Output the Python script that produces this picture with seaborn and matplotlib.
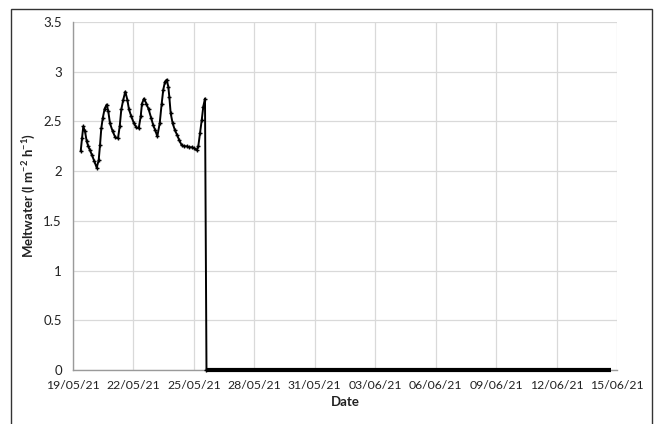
import numpy as np
import pandas as pd
import matplotlib
matplotlib.use("Agg")
import matplotlib.pyplot as plt
import matplotlib.dates as mdates
from matplotlib.patches import Rectangle
import seaborn as sns

# ---- data ----
start_date = "2021-05-19"
# time in days since 19/05/21 00:00
melt_days = [0.382, 0.447, 0.511, 0.596, 0.680, 0.759, 0.844, 0.943, 1.057, 1.176,
             1.275, 1.340, 1.404, 1.474, 1.573, 1.672, 1.752, 1.836, 1.970, 2.099,
             2.233, 2.318, 2.397, 2.496, 2.596, 2.695, 2.779, 2.893, 3.027, 3.141,
             3.261, 3.360, 3.424, 3.524, 3.638, 3.757, 3.886, 3.985, 4.084, 4.184,
             4.303, 4.402, 4.481, 4.566, 4.650, 4.730, 4.779, 4.849, 4.948, 5.062,
             5.176, 5.275, 5.395, 5.509, 5.643, 5.772, 5.891, 6.020, 6.139, 6.218,
             6.303, 6.387, 6.467, 6.551, 6.625]
melt_values = [2.20, 2.33, 2.45, 2.40, 2.30, 2.25, 2.21, 2.16, 2.10, 2.035,
               2.11, 2.26, 2.43, 2.53, 2.63, 2.67, 2.60, 2.48, 2.40, 2.34,
               2.33, 2.45, 2.62, 2.72, 2.80, 2.72, 2.62, 2.55, 2.48, 2.44,
               2.43, 2.55, 2.68, 2.73, 2.68, 2.62, 2.53, 2.46, 2.41, 2.35,
               2.48, 2.68, 2.82, 2.90, 2.92, 2.85, 2.75, 2.58, 2.48, 2.41,
               2.36, 2.31, 2.26, 2.25, 2.25, 2.24, 2.24, 2.23, 2.21, 2.25,
               2.38, 2.51, 2.65, 2.73, 0.0]
zero_days = [6.625, 26.685]
zero_values = [0.0, 0.0]

y_ticks = [0, 0.5, 1, 1.5, 2, 2.5, 3, 3.5]
y_tick_labels = ["0", "0.5", "1", "1.5", "2", "2.5", "3", "3.5"]
x_tick_labels = ["19/05/21", "22/05/21", "25/05/21", "28/05/21", "31/05/21",
                 "03/06/21", "06/06/21", "09/06/21", "12/06/21", "15/06/21"]

t0 = pd.Timestamp(start_date)
melt = pd.DataFrame({"Date": t0 + pd.to_timedelta(melt_days, unit="D"),
                     "Meltwater": melt_values})
zero = pd.DataFrame({"Date": t0 + pd.to_timedelta(zero_days, unit="D"),
                     "Meltwater": zero_values})

sns.set_theme(style="whitegrid")
plt.rcParams["font.family"] = ["Lato", "DejaVu Sans"]

fig = plt.figure(figsize=(6.54, 4.24), dpi=100)
ax = fig.add_axes([73 / 654, 1 - 370 / 424, (617 - 73) / 654, (370 - 22) / 424])

sns.lineplot(data=zero, x="Date", y="Meltwater", ax=ax, color="black",
             linewidth=3.0, solid_capstyle="butt", clip_on=False, zorder=3)
sns.lineplot(data=melt, x="Date", y="Meltwater", ax=ax, color="black",
             linewidth=1.4, marker="+", markersize=3.5, markeredgewidth=1.0,
             markeredgecolor="black", clip_on=False, zorder=4)

ax.set_ylim(0, 3.5)
ax.set_yticks(y_ticks)
ax.set_yticklabels(y_tick_labels)
xt = pd.to_datetime(x_tick_labels, format="%d/%m/%y")
ax.set_xlim(xt[0], xt[-1])
ax.set_xticks(xt)
ax.set_xticklabels(x_tick_labels)

ax.grid(True, color="#d9d9d9", linewidth=0.9)
ax.set_axisbelow(True)
for s in ["top", "right"]:
    ax.spines[s].set_visible(False)
for s in ["left", "bottom"]:
    ax.spines[s].set_visible(True)
    ax.spines[s].set_color("#9a9a9a")
    ax.spines[s].set_linewidth(1.0)
    ax.spines[s].set_zorder(2)
ax.tick_params(axis="y", which="major", direction="out", length=5, width=0.9,
               color="#9a9a9a", labelsize=9.5, labelcolor="#222222", pad=3)
ax.tick_params(axis="x", which="major", direction="out", length=5, width=0.9,
               color="#9a9a9a", labelsize=8.8, labelcolor="#222222", pad=2.5)

ax.set_xlabel("Date", fontsize=9.5, fontweight="bold", color="#222222", labelpad=3)
ax.set_ylabel("Meltwater (l m$^{\\mathregular{-2}}$ h$^{\\mathregular{-1}}$)",
              fontsize=9.5, fontweight="bold", color="#222222", labelpad=4)

fig.patches.append(Rectangle((11 / 654, -0.02), (652 - 11) / 654, 1.02 - 9 / 424,
                             transform=fig.transFigure, fill=False,
                             edgecolor="#333333", linewidth=1.0))

fig.savefig("out.png", dpi=100, facecolor="white")
